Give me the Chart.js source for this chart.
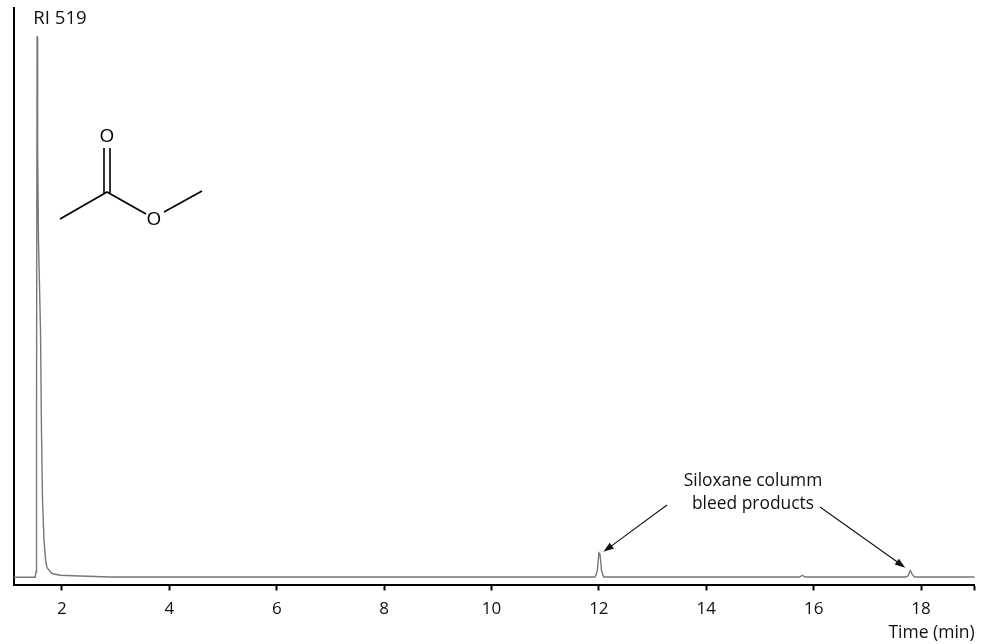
<!DOCTYPE html>
<html>
<head>
<meta charset="utf-8">
<script src="https://cdn.jsdelivr.net/npm/chart.js@4"></script>
<style>html,body{margin:0;padding:0;background:#fff}canvas{display:block}</style>
</head>
<body>
<canvas id="c" width="984" height="644"></canvas>
<script>
const timeMin = [1.10,1.50,1.517,1.526,1.536,1.540,1.553,1.562,1.600,1.618,1.637,1.665,1.695,1.721,1.814,1.963,2.335,2.90,6.0,10.0,11.93,11.97,12.00,12.02,12.05,12.09,12.70,15.74,15.79,15.84,17.72,17.76,17.80,17.84,17.88,19.00];
const signal  = [1.25,1.25,2.2,30,95.1,90,75.4,59.8,44.1,26.8,14.7,7.7,4.2,2.9,1.9,1.6,1.47,1.3,1.3,1.3,1.3,2.3,5.5,5.3,2.4,1.3,1.3,1.3,1.6,1.3,1.3,1.5,2.4,1.7,1.3,1.3];
const xTicks = [2,4,6,8,10,12,14,16,18,19];
const xTickLabels = ['2','4','6','8','10','12','14','16','18',''];
const peakLabel = 'RI 519';
const bleedLabel = ['Siloxane columm','bleed products'];
const axisTitle = 'Time (min)';
const fontFamily = '"Open Sans", "Noto Sans", sans-serif';

function arrow(ctx,x1,y1,x2,y2){
  const a=Math.atan2(y2-y1,x2-x1),len=11,w=0.33;
  ctx.beginPath();ctx.moveTo(x1,y1);ctx.lineTo(x2-Math.cos(a)*len*0.8,y2-Math.sin(a)*len*0.8);ctx.stroke();
  ctx.beginPath();ctx.moveTo(x2,y2);
  ctx.lineTo(x2-len*Math.cos(a-w),y2-len*Math.sin(a-w));
  ctx.lineTo(x2-len*Math.cos(a+w),y2-len*Math.sin(a+w));
  ctx.closePath();ctx.fill();
}
const annotations = {
  id:'annotations',
  afterDatasetsDraw(chart){
    const {ctx,scales:{x,y}}=chart;
    ctx.save();
    ctx.fillStyle='#111';ctx.strokeStyle='#111';
    ctx.textBaseline='middle';
    ctx.textAlign='center';
    ctx.font='18.6px '+fontFamily;
    ctx.fillText(peakLabel,x.getPixelForValue(1.534)+23,19);
    ctx.font='17.4px '+fontFamily;
    ctx.fillText(bleedLabel[0],753,481);
    ctx.fillText(bleedLabel[1],753,504);
    ctx.lineWidth=1.1;
    arrow(ctx,667,505,x.getPixelForValue(12.01)+4,y.getPixelForValue(5.5)-1);
    arrow(ctx,820,507,x.getPixelForValue(17.80)-5,y.getPixelForValue(2.4)-3);
    // methyl acetate structure
    ctx.strokeStyle='#000';ctx.fillStyle='#000';ctx.lineWidth=1.6;
    ctx.beginPath();
    ctx.moveTo(60,219);ctx.lineTo(107,192);ctx.lineTo(146,214);
    ctx.moveTo(164,212);ctx.lineTo(202,191);
    ctx.moveTo(104,193);ctx.lineTo(104,148);
    ctx.moveTo(110,193);ctx.lineTo(110,148);
    ctx.stroke();
    ctx.font='19px '+fontFamily;
    ctx.fillText('O',107,137);
    ctx.fillText('O',154,220);
    ctx.restore();
  }
};
new Chart(document.getElementById('c'),{
  type:'scatter',
  data:{datasets:[{
    data:timeMin.map((t,i)=>({x:t,y:signal[i]})),
    showLine:true,borderColor:'#777',borderWidth:1.4,pointRadius:0,tension:0,fill:false
  }]},
  plugins:[annotations],
  options:{
    responsive:false,animation:false,
    layout:{padding:{left:13.5,right:9.3,top:8,bottom:0}},
    plugins:{legend:{display:false},tooltip:{enabled:false}},
    scales:{
      x:{type:'linear',min:1.097,max:19,
        afterBuildTicks(s){s.ticks=xTicks.map(v=>({value:v}));},
        afterFit(s){s.height=59.5;},
        border:{display:true,color:'#000',width:2},
        grid:{drawOnChartArea:false,drawTicks:true,tickLength:6,tickColor:'#000',tickWidth:2},
        ticks:{autoSkip:false,maxRotation:0,color:'#111',padding:8,font:{family:fontFamily,size:17},
          callback(v){const i=xTicks.indexOf(v);return i<0?'':xTickLabels[i];}},
        title:{display:true,text:axisTitle,align:'end',color:'#111',font:{family:fontFamily,size:17.5},padding:{top:4,bottom:0}}
      },
      y:{min:0,max:100,
        afterFit(s){s.width=0;},
        border:{display:true,color:'#000',width:2},
        grid:{display:false,drawTicks:false},
        ticks:{display:false}
      }
    }
  }
});
</script>
</body>
</html>
